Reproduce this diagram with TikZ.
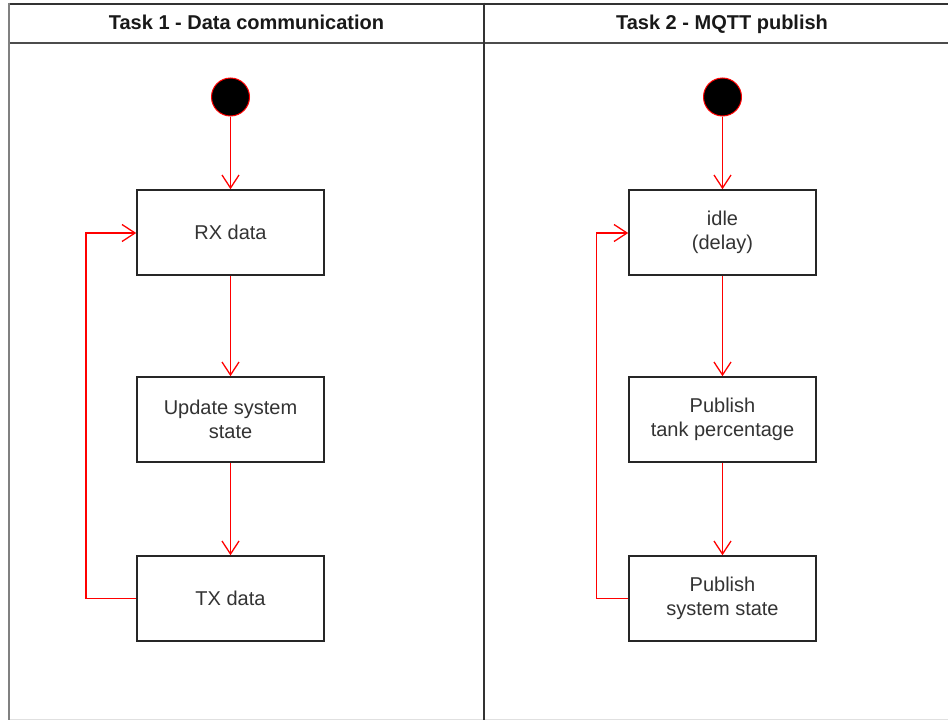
\documentclass[tikz,border=0pt]{standalone}
\usepackage{fontspec}
\setmainfont{Liberation Sans}
\usetikzlibrary{arrows.meta}
\definecolor{txt}{HTML}{333333}
\definecolor{redline}{HTML}{FF0000}
\begin{document}
\begin{tikzpicture}[x=1pt,y=-1pt,
  statebox/.style={draw=black!85,line width=1.6pt,fill=white,minimum width=187pt,minimum height=85pt,inner sep=0pt,
    text=txt,align=center,font=\fontsize{20}{24}\selectfont},
  startdot/.style={circle,fill=black,draw=redline,line width=1pt,minimum size=38pt,inner sep=0pt},
  flow/.style={draw=redline,line width=1.3pt,-{Straight Barb[length=13pt,width=17pt,line width=1.3pt]}},
  lanetitle/.style={anchor=base,font=\bfseries\fontsize{20}{24}\selectfont,text=black!90},
  laneline/.style={line width=2pt,draw=black!80}]
\useasboundingbox (0,0) rectangle (948,720);
\fill[white] (0,0) rectangle (948,720);
% lanes
\draw[line width=1pt,draw=black!12] (9,719.5) -- (948,719.5);
\draw[laneline] (9,3.5) -- (948,3.5);
\draw[laneline,draw=black!70] (9,42.5) -- (948,42.5);
\draw[line width=2.8pt,draw=black!50] (9,2.5) -- (9,720);
\draw[laneline] (484,2.5) -- (484,720);
\node[lanetitle] (t1) at (246.5,29.5) {Task 1 - Data communication};
\node[lanetitle] (t2) at (722,29.5) {Task 2 - MQTT publish};
% left lane
\node[startdot] (s1) at (230.5,97) {};
\node[statebox] (rx) at (230.5,232.5) {RX data};
\node[statebox] (up) at (230.5,419.5) {Update system\\state};
\node[statebox] (tx) at (230.5,598.5) {TX data};
\coordinate (l1a) at (86,598.5);
\coordinate (l1b) at (86,233);
\draw[flow] (s1) -- (rx);
\draw[flow] (rx) -- (up);
\draw[flow] (up) -- (tx);
\draw[flow] (tx.west) -- (l1a) -- (l1b) -- (rx.west |- l1b);
% right lane
\node[statebox] (idle) at (722.5,232.5) {idle\\(delay)};
\node[startdot] (s2) at (722.5,97) {};
\node[statebox] (tank) at (722.5,419.5) {Publish\\tank percentage};
\node[statebox] (sys) at (722.5,598.5) {Publish\\system state};
\coordinate (l2a) at (596.5,598.5);
\coordinate (l2b) at (596.5,233);
\draw[flow] (s2) -- (idle);
\draw[flow] (idle) -- (tank);
\draw[flow] (tank) -- (sys);
\draw[flow] (sys.west) -- (l2a) -- (l2b) -- (idle.west |- l2b);
\end{tikzpicture}
\end{document}
